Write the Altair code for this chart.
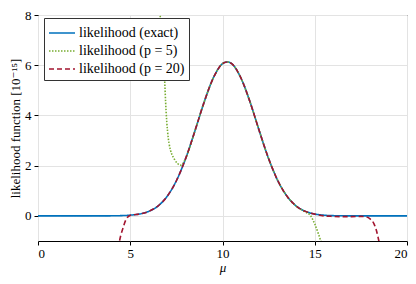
import altair as alt
import pandas as pd

# exact likelihood (units 1e-15)
exact_x = [0, 1, 2, 3, 3.5, 4, 4.5, 5, 5.5, 6, 6.5, 7, 7.5, 8, 8.5, 9, 9.5, 10, 10.25,
           10.5, 11, 11.5, 12, 12.5, 13, 13.5, 14, 14.5, 15, 15.5, 16, 16.5, 17, 17.5, 18, 19, 20]
exact_y = [0, 0, 0, 0, 0.001, 0.003, 0.01, 0.03, 0.075, 0.18, 0.39, 0.78, 1.40, 2.28, 3.37, 4.52, 5.49, 6.06, 6.13,
           6.06, 5.49, 4.52, 3.37, 2.28, 1.40, 0.78, 0.39, 0.18, 0.075, 0.028, 0.01, 0.003, 0.001, 0, 0, 0, 0]

# polynomial approximation p = 5
p5_x = [6.5, 6.63, 6.75, 6.85, 6.94, 7.1, 7.4, 7.75, 8.0, 8.5, 9, 9.5, 10, 10.25, 10.5, 11, 11.5,
        12, 12.5, 13, 13.5, 14, 14.5, 14.75, 15.0, 15.2, 15.35]
p5_y = [9.4, 7.9, 6.6, 5.6, 4.2, 2.9, 2.25, 2.02, 2.28, 3.37, 4.52, 5.49, 6.06, 6.13, 6.06, 5.49, 4.52,
        3.37, 2.28, 1.40, 0.78, 0.38, 0.15, 0.03, -0.32, -0.72, -1.05]

# polynomial approximation p = 20
p20_x = [4.35, 4.43, 4.6, 4.78, 5.0, 5.5, 6, 6.5, 7, 7.5, 8, 8.5, 9, 9.5, 10, 10.25, 10.5, 11, 11.5,
         12, 12.5, 13, 13.5, 14, 14.5, 15, 15.5, 16, 16.5, 17, 17.5, 17.8, 18.0, 18.2, 18.35, 18.46, 18.52]
p20_y = [-1.3, -0.96, -0.5, -0.13, 0.02, 0.075, 0.18, 0.39, 0.78, 1.40, 2.28, 3.37, 4.52, 5.49, 6.06, 6.13, 6.06, 5.49, 4.52,
         3.37, 2.28, 1.40, 0.78, 0.39, 0.18, 0.07, 0.0, -0.02, -0.03, -0.03, -0.02, -0.04, -0.12, -0.3, -0.6, -0.95, -1.15]

names = ["likelihood (exact)", "likelihood (p = 5)", "likelihood (p = 20)"]
colors = ["#0072BD", "#77AC30", "#A2142F"]
dashes = [[1, 0], [1.5, 1.5], [5, 3]]
x_ticks = [0, 5, 10, 15, 20]
y_ticks = [0, 2, 4, 6, 8]

rows = []
for n, xs, ys in zip(names, [exact_x, p5_x, p20_x], [exact_y, p5_y, p20_y]):
    for i, (a, b) in enumerate(zip(xs, ys)):
        rows.append({"series": n, "mu": a, "L": b, "i": i})
df = pd.DataFrame(rows)

FONT = "Liberation Serif, DejaVu Serif, serif"

base = alt.Chart(df).encode(
    x=alt.X("mu:Q", scale=alt.Scale(domain=[0, 20], nice=False),
            axis=alt.Axis(values=x_ticks, title="μ", titleFontStyle="italic",
                          tickSize=4, labelPadding=2, titlePadding=1)),
    y=alt.Y("L:Q", scale=alt.Scale(domain=[-1, 8], nice=False),
            axis=alt.Axis(values=y_ticks, title="likelihood function [10⁻¹⁵]",
                          tickSize=4, labelPadding=3, titlePadding=2)),
    color=alt.Color("series:N", scale=alt.Scale(domain=names, range=colors),
                    legend=alt.Legend(title=None, orient="none", legendX=6, legendY=3,
                                      symbolType="M-1,0H1.6", symbolSize=400, symbolStrokeWidth=1.6,
                                      labelFont=FONT, labelFontSize=14, labelColor="black",
                                      rowPadding=0, padding=4, strokeColor="#333333",
                                      fillColor="white", labelOffset=9)),
    strokeDash=alt.StrokeDash("series:N", scale=alt.Scale(domain=names, range=dashes)),
    order="i:Q",
)

layers = [base.transform_filter(alt.datum.series == n).mark_line(
    clip=True, strokeWidth=1.6, interpolate="monotone") for n in names]

chart = alt.layer(*layers).properties(
    width=369, height=226,
    autosize=alt.AutoSizeParams(type="none"),
    padding={"left": 30, "top": 7, "right": 1, "bottom": 35},
).configure_view(stroke="black", strokeWidth=1).configure_axis(
    labelFont=FONT, titleFont=FONT, labelFontSize=13, titleFontSize=13,
    labelColor="black", titleColor="black", titleFontWeight="normal",
    gridColor="#e3e3e3", domain=False, tickColor="black",
).configure_legend(labelFont=FONT)

chart.save("out.html", embed_options={"renderer": "svg", "actions": False})
